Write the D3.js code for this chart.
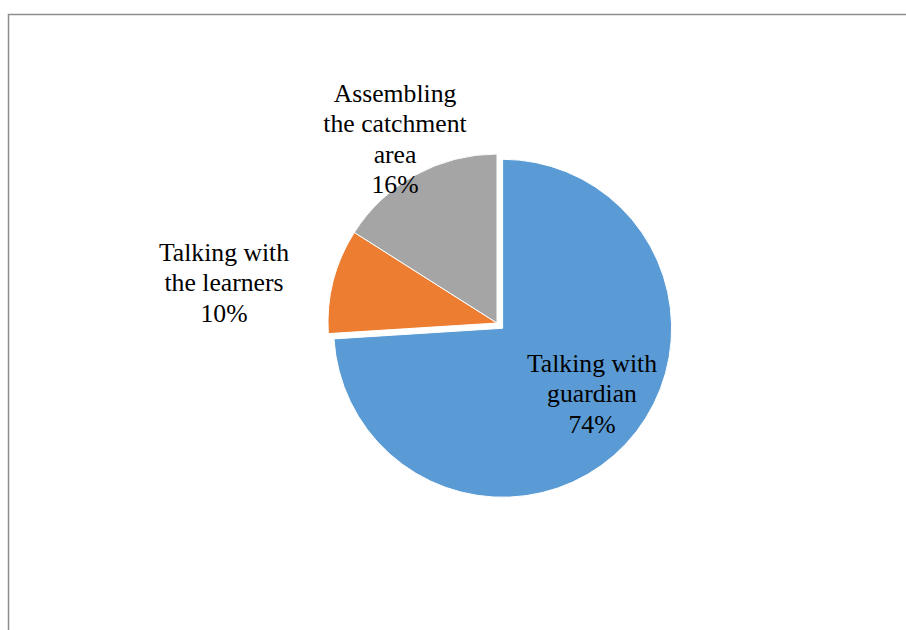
<!DOCTYPE html>
<html>
<head>
<meta charset="utf-8">
<script src="https://cdn.jsdelivr.net/npm/d3@7/dist/d3.min.js"></script>
<style>
  html, body { margin: 0; padding: 0; background: #fff; }
  svg { display: block; }
  text { font-family: "Liberation Serif", "Times New Roman", serif; fill: #000; }
</style>
</head>
<body>
<svg id="chart" width="906" height="630"></svg>
<script>
// Survey responses: share of each approach
const categories = ["Talking with guardian", "Talking with the learners", "Assembling the catchment area"];
const values = [74, 10, 16];
const labelLines = [
  ["Talking with", "guardian", "74%"],
  ["Talking with", "the learners", "10%"],
  ["Assembling", "the catchment", "area", "16%"]
];
const colors = ["#5B9BD5", "#ED7D31", "#A5A5A5"];

const W = 906, H = 630;
const cx = 497, cy = 323, radius = 169;
// explode distance per slice (only the large slice is pulled out)
const explode = [7.7, 0, 0];
// label anchor (first baseline) relative to the pie centre
const labelOffset = [[95, 49], [-273, -62], [-102, -221]];
const fontSize = 25.7, lineGap = 30.3;

const svg = d3.select("#chart");

// chart frame
svg.append("rect")
  .attr("x", 8.5).attr("y", 14.5)
  .attr("width", W + 20).attr("height", H + 20)
  .attr("fill", "none")
  .attr("stroke", "#8e8e8e")
  .attr("stroke-width", 1.5);

const pie = d3.pie().sort(null).value(d => d)(values);
const arc = d3.arc().innerRadius(0).outerRadius(radius);

const g = svg.append("g").attr("transform", `translate(${cx},${cy})`);

g.selectAll("path")
  .data(pie)
  .join("path")
  .attr("d", arc)
  .attr("fill", (d, i) => colors[i])
  .attr("stroke", "#fff")
  .attr("stroke-width", 1)
  .attr("stroke-linejoin", "round")
  .attr("transform", (d, i) => {
    const a = (d.startAngle + d.endAngle) / 2;
    return `translate(${Math.sin(a) * explode[i]},${-Math.cos(a) * explode[i]})`;
  });

// data labels
const labels = g.selectAll("text.lbl")
  .data(pie)
  .join("text")
  .attr("class", "lbl")
  .attr("text-anchor", "middle")
  .attr("font-size", fontSize)
  .attr("x", (d, i) => labelOffset[i][0])
  .attr("y", (d, i) => labelOffset[i][1]);

labels.each(function(d, i) {
  d3.select(this).selectAll("tspan")
    .data(labelLines[i])
    .join("tspan")
    .attr("x", labelOffset[i][0])
    .attr("dy", (t, j) => j === 0 ? 0 : lineGap)
    .text(t => t);
});
</script>
</body>
</html>
